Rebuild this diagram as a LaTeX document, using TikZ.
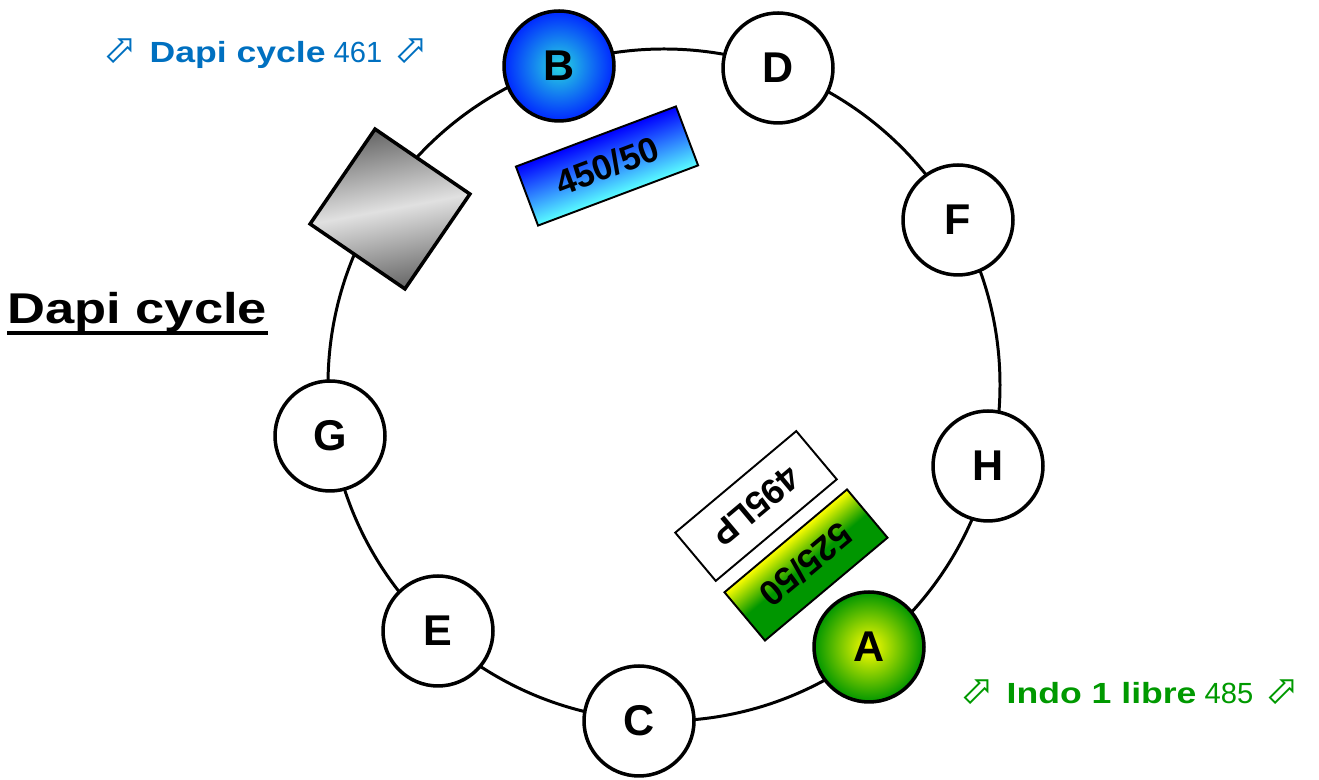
\documentclass[tikz,border=0pt]{standalone}
\usepackage{fontspec}
\setmainfont{Liberation Sans}
\newfontfamily\widefont[FakeStretch=1.22]{Liberation Sans}
\newfontfamily\symfont{DejaVu Sans}

\definecolor{tagblue}{HTML}{0070C0}
\definecolor{taggreen}{HTML}{009900}
\definecolor{bluecore}{RGB}{40,215,225}
\definecolor{blueedge}{RGB}{0,40,255}
\definecolor{greenedge}{RGB}{0,150,0}
\definecolor{cyanlight}{RGB}{90,255,255}

\tikzstyle{ring} = [line width=1.7pt]
\tikzstyle{port} = [circle, draw, line width=2pt, fill=white, minimum size=2.2cm, inner sep=0pt, font=\bfseries\fontsize{24.5}{24.5}\selectfont]
\tikzstyle{filterbox} = [rectangle, draw, line width=1.1pt, inner sep=0pt, minimum height=1.26cm, font=\bfseries\fontsize{20}{20}\selectfont]
\tikzstyle{tag} = [inner sep=0pt, font=\fontsize{16.6}{16.6}\selectfont]
\newcommand{\tagicon}{{\symfont\fontsize{23}{23}\selectfont ⬀}}

\begin{document}
\begin{tikzpicture}[x=0.02cm, y=0.02cm]
  \useasboundingbox (0,0) rectangle (1319,780);
  \coordinate (o) at (664,395);
  \draw[ring] (o) circle[radius=336];

  % ports round the cycle
  \node[port, shading=radial, inner color=bluecore, outer color=blueedge] (B) at (559,714) {B};
  \node[port] (D) at (778,712) {D};
  \node[port] (F) at (958,560) {F};
  \node[port] (H) at (988,314) {H};
  \node[port, shading=radial, inner color=yellow, outer color=greenedge] (A) at (869,133) {A};
  \node[port] (C) at (639,59) {C};
  \node[port] (E) at (438,149) {E};
  \node[port] (G) at (330,344) {G};

  % mirror
  \node[draw, line width=2pt, minimum size=2.3cm, rotate=-34.4,
        top color=black!60, bottom color=black!60, middle color=black!12,
        shading angle=10.6] (mirror) at (390,571) {};

  % filters
  \begin{scope}[transform canvas={shift={(607,614)}, rotate=20.6}]
    \node[filterbox, minimum width=3.42cm, top color=blue, bottom color=cyanlight] (f450) at (0,0) {450/50};
  \end{scope}
  \begin{scope}[transform canvas={shift={(756,274)}, rotate=220}]
    \node[filterbox, minimum width=3.16cm, fill=white] (lp495) at (0,0) {495LP};
  \end{scope}
  \begin{scope}[transform canvas={shift={(806,215)}, rotate=220}]
    \node[filterbox, minimum width=3.2cm, top color=greenedge, bottom color=yellow, middle color=greenedge] (f525) at (0,0) {525/50};
  \end{scope}

  % labels
  \node[tag, text=tagblue] (dapitag) at (266,726) {\tagicon\hspace{7pt}{\widefont\bfseries Dapi cycle} 461\hspace{7pt}\tagicon};
  \node[tag, text=taggreen] (indotag) at (1130,88) {\tagicon\hspace{7pt}{\widefont\bfseries Indo 1 libre} 485\hspace{7pt}\tagicon};

  \node[inner sep=0pt, anchor=base west, font=\widefont\bfseries\fontsize{24.5}{24.5}\selectfont] (title) at (7,456) {Dapi cycle};
  \draw[line width=2.3pt] ([yshift=-0.18cm]title.base west) -- ([yshift=-0.18cm]title.base east);
\end{tikzpicture}
\end{document}
